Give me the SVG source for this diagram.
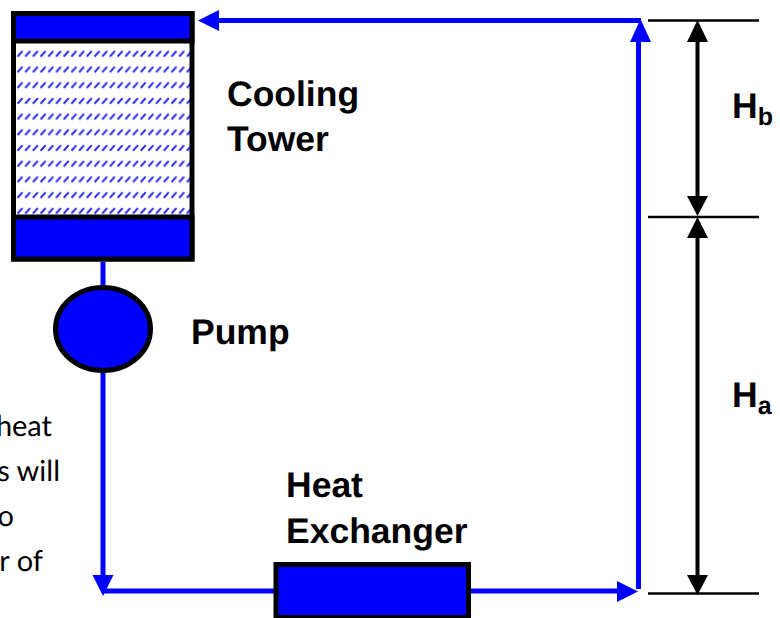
<svg xmlns="http://www.w3.org/2000/svg" width="780" height="618" viewBox="0 0 780 618">
<style>
text{text-rendering:geometricPrecision}
.lbl{font-family:"Liberation Sans",Arial,sans-serif;font-weight:700;font-size:35.500px;fill:#000}
.sub{font-size:25px}
.note{font-family:"Lato","Noto Sans",sans-serif;font-size:29px;fill:#000;text-anchor:end}
.box{fill:#00f;stroke:#000;stroke-width:5}
.pipe{stroke:#00f;stroke-width:5;fill:none}
.dim{stroke:#000;stroke-width:2.500;fill:none}
.dimv{stroke:#000;stroke-width:4;fill:none}
</style>
<defs>
<pattern id="hatch" patternUnits="userSpaceOnUse" x="16" y="46" width="7.700" height="15.700">
<path d="M1.500 10.500L6.500 5" stroke="#2828f0" stroke-width="2" fill="none"/>
</pattern>
</defs>
<rect width="780" height="618" fill="#fff"/>
<g id="connectors">
<path class="pipe" d="M103 262V287"/>
<path class="pipe" d="M103 372V578"/>
<path class="pipe" d="M103 591H275"/>
<path class="pipe" d="M470 591H620"/>
<path class="pipe" d="M638.500 589V40"/>
<path class="pipe" d="M641 20.500H215"/>
<polygon fill="#00f" points="103,596 92.500,575 113.500,575"/>
<polygon fill="#00f" points="638,591.500 617,581 617,602"/>
<polygon fill="#00f" points="640.500,19 630,42 651,42"/>
<polygon fill="#00f" points="198,20.500 219,10 219,31"/>
<path class="dim" d="M648 20.500H759M648 217H759M648 593.500H759"/>
<path class="dimv" d="M697.500 40V200M697.500 235V578"/>
<polygon points="697.500,20 687,42 708,42"/>
<polygon points="697.500,216 687,196 708,196"/>
<polygon points="697.500,217 687,238 708,238"/>
<polygon points="697.500,595 687,575 708,575"/>
</g>
<g id="cooling-tower">
<rect x="13.500" y="13.500" width="178.500" height="245.500" fill="url(#hatch)" stroke="#000" stroke-width="5"/>
<rect class="box" x="13.500" y="13.500" width="178.500" height="27.500"/>
<rect class="box" x="13.500" y="217" width="178.500" height="42"/>
<text class="lbl" x="227" y="106">Cooling</text>
<text class="lbl" x="227" y="151">Tower</text>
</g>
<g id="pump">
<ellipse class="box" cx="103" cy="329" rx="47.500" ry="41.500"/>
<text class="lbl" x="191" y="344">Pump</text>
</g>
<g id="heat-exchanger">
<rect class="box" x="276" y="564.500" width="192.500" height="53"/>
<text class="lbl" x="286" y="497">Heat</text>
<text class="lbl" x="286" y="543">Exchanger</text>
</g>
<g id="height-labels">
<text class="lbl" x="732" y="118">H<tspan class="sub" dy="7">b</tspan></text>
<text class="lbl" x="732" y="407">H<tspan class="sub" dy="7">a</tspan></text>
</g>
<g id="note">
<text class="note" x="52" y="436">heat</text>
<text class="note" x="60" y="481">s will</text>
<text class="note" x="14" y="526">o</text>
<text class="note" x="43" y="571">r of</text>
</g>
</svg>
